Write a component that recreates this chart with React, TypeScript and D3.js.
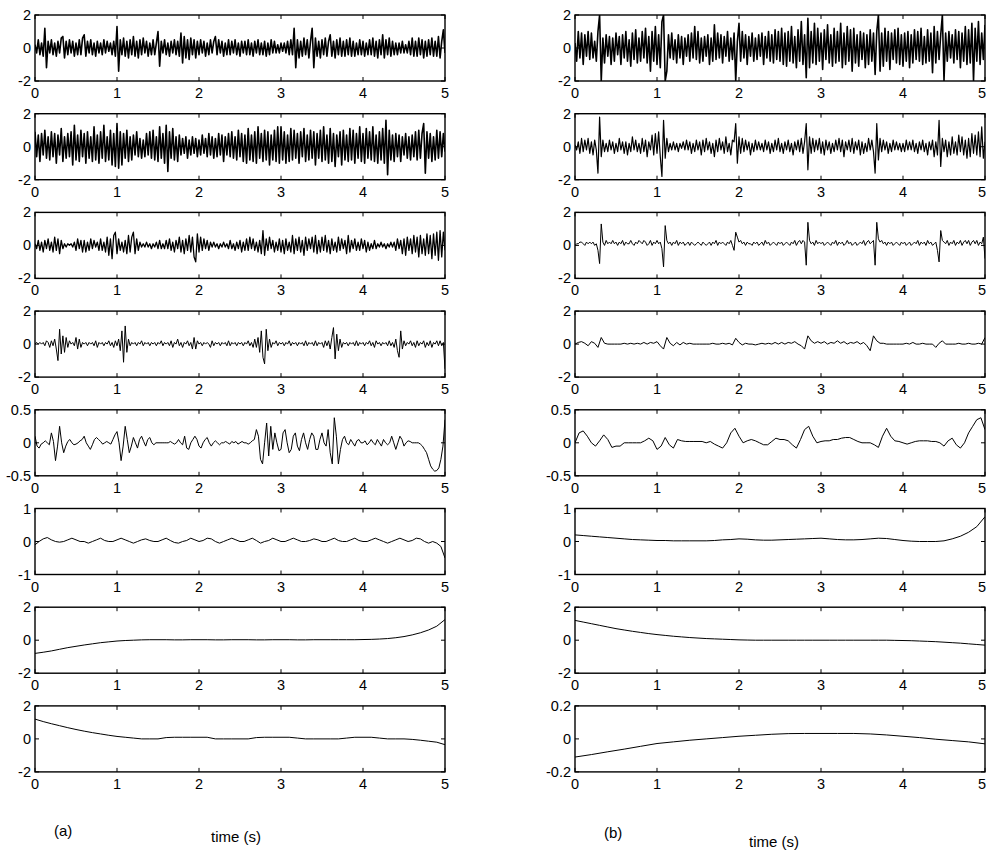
import React from 'react';
import * as d3 from 'd3';

// Time axis (seconds) shared by every subplot
const timeTicks = [0, 1, 2, 3, 4, 5];

// ---- Column (a): decomposition components, top to bottom ----
// values in tenths
const aC1 = [
  2,-3,5,-4,3,-5,12,-12,4,-3, 5,-4,3,-5,4,-3,6,7,-6,4, -4,5,-3,4,-5,3,-4,5,-4,6, 8,-5,4,-3,5,-4,3,-5,4,-3,
  3,-4,5,-3,4,-2,3,-4,4,-5, 13,-14,5,-4,6,-5,4,-6,5,-4, 7,-5,4,-6,5,-4,6,-3,4,-5, 3,-4,5,-4,3,10,-11,4,-3,5,
  -4,3,-5,4,-3,5,-4,4,-5,9, -9,7,-6,5,-7,6,-4,5,-6,4, -4,5,-3,4,-5,3,-4,5,-3,4, 7,-4,5,-3,4,-5,3,-4,5,-4,
  4,-3,5,-4,3,-5,4,-3,4,-4, 5,-4,3,-5,4,-3,5,-4,3,-4, 4,-5,3,-4,5,-3,4,-3,2,-3, 3,-2,3,-3,4,-4,5,-4,12,-12,
  5,-6,4,-5,6,-4,5,-6,4,12, -12,6,-5,4,-6,5,-4,6,-5,4, 8,-5,4,-6,5,-4,6,-5,4,-5, 5,-4,6,-5,4,-5,3,-4,5,-4,
  4,-5,3,-4,5,-4,6,-5,4,-6, 5,-4,8,-6,5,-4,6,-5,4,-4, 3,-4,3,-3,4,-3,2,-3,4,-4, 6,-5,4,-5,6,-4,5,-6,4,-5,
  5,-4,6,-5,4,-5,7,-6,4,11, -3,
];
const aC2 = [
  9,-6,7,-9,8,-5,10,-7,6,-8, 9,-6,8,-10,7,-5,11,-9,6,-7, 8,-6,9,-11,13,-8,7,-9,10,-6, 8,-10,9,-7,6,-9,12,-8,7,-10,
  9,-7,13,-9,6,-8,10,-11,8,-12, 14,-13,9,-11,8,-7,10,-9,6,-8, 7,-5,9,-6,5,-7,4,-6,8,-5, 9,-7,10,-8,6,-9,12,-7,8,-10,
  13,-15,9,-7,11,-8,6,-9,7,-5, 5,-4,6,-7,4,-5,6,-4,5,-6, 4,-5,7,-4,5,-6,8,-5,6,-7, 5,-6,8,-5,7,-9,6,-5,8,-6,
  9,-7,6,-8,10,-6,8,-9,7,-10, 11,-8,7,-9,9,-10,12,-7,8,-9, 10,-8,9,-11,7,-8,10,-9,12,-10, 12,-8,9,-10,7,-9,11,-8,10,-7,
  8,-10,9,-6,11,-9,7,-8,10,-7, 9,-11,8,-7,10,-9,12,-8,7,-10, 11,-9,8,-12,7,-6,9,-11,10,-8, 7,-9,11,-8,10,-10,8,-7,12,-9,
  8,-10,11,-7,9,-8,12,-9,7,-10, 9,-8,11,-10,16,-17,10,-8,7,-9, 8,-6,7,-9,6,-5,8,-7,6,-8, 7,-6,9,-8,10,-7,8,14,-16,9,
  -7,8,-9,6,-8,10,-7,9,-6,8, -3,
];
const aC3 = [
  1,-2,3,-3,2,-4,3,-2,4,-3, 2,-4,5,-3,4,-5,3,-2,1,-1, 1,0,1,-1,2,-3,4,-2,3,-4, 3,-4,2,-3,4,-2,3,-1,2,-3,
  4,-3,2,-4,5,-6,4,-8,6,8, -5,4,-3,2,-4,3,-5,6,-4,5, 8,-5,4,-3,2,-1,1,-1,2,-1, 1,-2,1,-1,2,-2,3,-2,1,-2,
  3,-2,4,-3,2,-4,3,-2,5,-4, 3,-5,4,-3,6,-4,5,-7,-10,7, -4,5,-3,4,-2,3,-3,2,-1,2, -1,1,-2,1,-1,2,-1,1,-2,3,
  -2,1,-3,2,-2,3,-4,2,-3,4, -3,5,-2,4,-3,2,-4,3,-5,9, -6,4,-3,5,-2,3,-4,2,-3,4, -4,3,-5,4,-3,2,-4,6,-5,4,
  -3,5,-4,3,-6,5,-3,4,-2,5, -4,6,-5,3,-4,5,-3,6,-4,3, -5,4,-3,2,-4,5,-3,4,-2,3, -5,6,-4,3,-2,4,-3,2,-3,4,
  -2,3,-4,2,-3,1,-2,3,-2,1, -1,2,-1,1,-2,1,-1,2,-1,2, -3,4,-2,3,-5,4,-6,5,-3,4, -5,6,-4,5,-7,6,-5,4,-6,7,
  -5,6,-8,7,-6,8,-9,9,-7,8, -3,
];
const aC4 = [
  0,1,0,1,0,1,-1,2,1,-2, 2,-1,3,-3,-10,9,-6,5,-5,4, -2,2,0,1,-1,4,-3,3,-2,1, 0,1,-1,1,0,1,-1,2,-2,1,
  0,1,-1,1,0,2,-1,1,-2,2, -1,3,-4,8,-11,11,-5,3,-1,1, 0,1,-1,1,0,2,-1,1,0,1, -1,1,0,1,-1,1,0,2,-1,1,
  0,1,-1,2,-2,1,0,3,-1,1, -2,1,0,2,-1,1,-3,4,-3,2, 0,1,-1,1,0,1,0,-2,2,-1, 1,0,1,-1,1,0,1,-1,2,-1,
  1,0,1,-1,1,0,1,-1,1,0, 2,-1,1,-2,3,-2,4,-5,8,-8, -12,9,-4,3,-2,1,0,2,-1,1, 0,1,-1,1,0,2,-1,1,0,1,
  -1,1,0,1,-1,2,-1,1,0,1, -1,2,-1,1,0,1,-2,2,-1,2, -3,4,10,-9,6,-4,3,-2,1,0, 1,-1,1,0,1,-1,2,-1,1,0,
  1,-1,1,0,2,-1,1,-2,2,0, 1,-1,1,0,1,-1,2,-1,1,-2, 3,-4,-8,8,-3,2,-1,1,0,2, -1,1,-2,2,-1,1,0,2,-2,1,
  -1,2,-2,1,0,2,-1,2,-1,1, -15,
];
// values in hundredths
const aC5 = [
  10,-5,-8,-2,0,3,0,-3, 15,2,-27,-5,25,0,-15,-5, 2,5,0,-3,-2,0,3,5, 10,0,-5,-10,-3,5,8,5,
  2,-2,0,2,0,-2,5,12, 17,0,-27,-5,25,5,-15,-5, 8,0,-8,5,10,2,-5,5, 8,0,-3,0,0,0,0,0,
  0,0,2,0,-2,0,5,0, -3,10,-8,-10,0,5,10,5, -5,-8,0,5,8,0,-5,0, 3,0,-3,0,0,2,0,-2,
  2,0,2,-2,0,2,0,0, -2,0,3,5,20,10,-25,-32, 0,30,-20,25,-10,15,0,-12, -10,15,20,0,-15,-10,10,15,
  -5,-12,5,15,0,-10,5,15, 10,-10,-10,5,15,0,-5,20, -15,-32,38,10,-32,-10,5,10, 0,-3,5,0,-5,3,5,0,
  0,3,-3,0,5,0,-3,5, 0,-5,5,0,-3,0,10,0, -10,0,10,5,-5,0,3,2, 0,0,0,0,-2,-5,-10,-15,
  -25,-35,-40,-43,-42,-38,-25,-5, 35,
];
const aC6 = [
  -10,0,8,12,5,0,-2,0,5,10, 5,0,0,-5,0,5,10,3,0,0, 5,10,5,0,-5,0,5,8,3,0, 0,5,10,3,-3,-5,0,3,10,5,
  0,3,10,8,0,-5,0,5,10,5, 0,0,5,10,3,-5,0,3,10,5, 0,0,5,10,5,0,0,3,8,5, 0,0,5,10,3,0,0,5,10,3,
  0,0,5,10,5,0,-5,0,5,10, 5,0,3,10,8,0,-5,0,-5,-15, -50,
];
const aC7 = [
  -80,-73,-65,-55,-45,-37,-29,-22,-15,-10, -5,-2,0,2,3,3,3,2,2,3, 3,3,2,2,3,3,3,2,2,3,
  3,3,2,2,3,3,3,3,3,3, 4,5,7,10,15,22,32,45,62,85, 125,
];
const aC8 = [
  120,105,92,80,68,57,47,38,30,22, 15,10,5,0,0,0,8,10,10,10, 10,10,0,0,0,0,0,8,10,10,
  10,10,5,0,0,0,0,0,5,10, 10,10,5,0,0,0,-3,-8,-14,-20, -35,
];

// ---- Column (b) ----
// values in tenths
const bC1 = [
  3,-8,10,-6,9,-10,8,-5,10,-7, 9,-6,4,-8,10,20,-20,6,-9,8, -5,7,-10,6,-8,9,-4,7,-10,8, -6,10,-8,5,-11,9,-7,11,-9,6,
  -8,10,-6,12,-9,7,-14,10,-8,13, -10,8,-12,16,20,-20,-14,8,-6,9, -7,5,-9,8,-6,7,-10,6,-5,8, -8,9,-6,13,-7,10,-9,6,-8,7,
  -5,8,-10,6,-8,14,-7,9,-6,8, -9,7,-5,10,-8,6,-7,9,-20,4, 15,-8,10,-6,8,-10,7,-5,9,-8, 6,-7,8,-5,9,-10,7,-6,10,-8,
  8,-9,11,-7,10,-8,12,-10,9,-11, 10,-8,13,-9,7,-12,11,-8,16,-10, 8,-18,18,-12,10,-9,15,-10,12,-8, 9,-13,11,-7,14,-9,8,-11,12,-9,
  10,-8,15,-12,9,-10,13,-8,11,-14, 12,-9,8,-11,10,-7,9,-12,8,-10, 11,-8,9,-16,10,20,-14,9,-11,12, -8,10,-13,9,-7,11,-9,12,-10,8,
  -11,9,-8,10,-12,8,-9,11,-7,10, -8,12,-10,7,-9,11,-8,9,-15,13, -9,10,-7,8,20,-20,9,-8,10,-6, 8,-9,11,-7,10,-12,9,-8,13,-10,
  11,-9,15,-20,12,-8,16,-10,9,-7, 14,
];
const bC2 = [
  1,-2,3,-4,5,-3,4,-2,5,-4, 3,-5,4,-2,-16,18,-6,4,-3,2, -3,4,-2,3,-4,2,-3,5,-2,3, -4,3,-5,2,-3,6,-2,4,-3,2,
  -4,5,-3,4,-6,3,-2,7,-5,8, -4,9,-6,-18,16,-7,5,-3,2,-2, 3,-2,2,-3,2,-1,3,-2,4,-2, 3,-4,2,-3,4,-2,3,-5,4,-3,
  5,-2,3,-4,2,-6,4,-3,5,-2, 3,-4,6,-3,2,-5,4,3,14,-10, 6,-4,5,-3,4,-2,3,-5,2,-3, 4,-2,3,-2,2,-3,4,-2,3,-4,
  2,-3,4,-2,5,-3,2,-4,3,-2, 4,-3,2,-5,3,-2,4,-3,5,-4, 3,14,-14,6,-4,5,-3,4,-2,5, -4,3,-5,4,-2,3,-4,2,-3,4,
  -2,5,-3,4,-6,3,-2,4,-3,5, -4,3,-2,4,-5,3,-4,2,-3,5, -2,4,-3,-16,14,-8,5,-3,4,-2, 3,-4,2,-3,4,-2,3,-2,2,-3,
  2,-3,4,-2,3,-2,4,-3,2,-4, 3,-2,4,-3,2,-5,3,-2,4,-6, 3,-5,16,-12,5,-3,4,-6,3,-5, 6,-4,3,-5,7,-3,6,-5,4,-7,
  5,-6,8,-4,7,-5,9,-6,12,-7, 3,
];
const bC3 = [
  0,1,1,2,2,1,0,2,1,2, 1,2,0,1,-3,-11,13,2,0,3, 1,2,1,3,1,2,0,2,1,3, 0,2,1,1,3,1,0,2,1,3,
  2,1,3,2,0,1,3,0,2,1, 3,1,2,-2,-13,12,3,1,2,0, 2,1,3,0,2,1,2,0,1,2, 0,2,1,0,1,2,1,0,2,1,
  0,1,2,0,2,1,3,0,2,1, 2,1,0,2,1,3,0,-3,8,5, 2,3,1,2,0,2,1,1,0,2, 1,2,0,1,2,0,3,1,2,0,
  1,2,1,0,2,1,2,0,1,2, 1,0,2,1,3,0,2,3,1,3, 2,-12,14,3,1,2,0,3,1,2, 1,2,0,1,2,1,0,2,1,3,
  0,2,1,2,0,1,3,1,2,0, 1,2,0,1,2,1,3,0,2,3, 1,2,3,-12,14,4,2,3,1,2, 0,2,1,2,0,1,2,1,0,2,
  1,2,0,1,2,0,1,2,1,3, 0,2,1,2,0,3,1,2,0,1, 2,-3,-10,9,3,2,1,3,0,2, 1,3,0,2,1,3,0,2,3,1,
  3,0,2,3,1,3,0,2,1,5, -8,
];
// values in hundredths
const bC4 = [
  0,10,15,5,-10,15,5,-20,40,5, 0,0,0,0,0,5,0,5,0,5, 0,10,0,10,5,15,-10,-30,40,5, -10,10,-5,10,0,5,0,0,0,0,
  0,0,5,0,0,5,0,5,-5,35, 10,-5,5,0,0,-5,0,5,0,5, 0,10,0,10,0,10,5,15,0,-10, -30,50,20,5,15,5,15,0,10,5,
  20,5,15,0,10,5,15,0,10,-10, -40,50,20,5,5,0,0,0,0,0, 0,5,0,10,0,0,5,0,0,0, -20,5,20,0,0,0,0,5,0,0,
  5,0,0,5,0,40,
];
const bC5 = [
  0,15,18,10,0,-5,3,12,5,-7, -5,-5,0,0,0,0,0,3,7,3, -10,-5,8,-3,-8,5,3,2,2,2, 2,2,0,2,-2,-5,-8,0,15,22,
  10,0,3,5,3,0,-3,-3,2,7, 5,5,3,-3,-8,5,20,25,10,0, 2,3,3,5,5,7,8,8,5,2, 0,0,0,-3,-7,10,22,10,3,2,
  0,-2,0,2,3,3,3,2,2,0, -5,3,7,-3,-8,0,15,25,35,38, 20,
];
const bC6 = [
  20,18,16,14,12,10,8,6,5,4, 3,3,2,2,2,2,2,3,5,6, 8,7,5,4,4,5,6,7,8,9,
  10,8,6,5,5,6,8,10,9,6, 3,1,0,0,0,2,8,16,28,45, 75,
];
const bC7 = [
  120,110,100,90,80,70,62,54,47,40, 34,29,24,20,16,13,10,8,6,4, 2,1,0,0,0,0,0,0,0,0,
  0,0,0,0,0,0,0,0,0,-1, -2,-3,-5,-7,-9,-12,-15,-18,-22,-26, -30,
];
// values in thousandths
const bC8 = [
  -110,-95,-78,-62,-45,-28,-18,-8,0,8,16,22,28,32,33,33,33,33,30,24,16,8,-2,-10,-18,-30,
];

const range2 = [-2, 2];
const ticks2 = [-2, 0, 2];
const rangeHalf = [-0.5, 0.5];
const ticksHalf = [-0.5, 0, 0.5];
const range1 = [-1, 1];
const ticks1 = [-1, 0, 1];
const rangeFifth = [-0.2, 0.2];
const ticksFifth = [-0.2, 0, 0.2];

const tenths = (a: number[]) => a.map((v) => v / 10);
const hundredths = (a: number[]) => a.map((v) => v / 100);
const thousandths = (a: number[]) => a.map((v) => v / 1000);

type PanelSpec = { values: number[]; domain: number[]; ticks: number[]; weight: number };

const columnA: PanelSpec[] = [
  { values: tenths(aC1), domain: range2, ticks: ticks2, weight: 1.6 },
  { values: tenths(aC2), domain: range2, ticks: ticks2, weight: 1.6 },
  { values: tenths(aC3), domain: range2, ticks: ticks2, weight: 1.3 },
  { values: tenths(aC4), domain: range2, ticks: ticks2, weight: 1 },
  { values: hundredths(aC5), domain: rangeHalf, ticks: ticksHalf, weight: 1 },
  { values: hundredths(aC6), domain: range1, ticks: ticks1, weight: 1 },
  { values: hundredths(aC7), domain: range2, ticks: ticks2, weight: 1 },
  { values: hundredths(aC8), domain: range2, ticks: ticks2, weight: 1 },
];
const columnB: PanelSpec[] = [
  { values: tenths(bC1), domain: range2, ticks: ticks2, weight: 1.6 },
  { values: tenths(bC2), domain: range2, ticks: ticks2, weight: 1.2 },
  { values: tenths(bC3), domain: range2, ticks: ticks2, weight: 1 },
  { values: hundredths(bC4), domain: range2, ticks: ticks2, weight: 1 },
  { values: hundredths(bC5), domain: rangeHalf, ticks: ticksHalf, weight: 1 },
  { values: hundredths(bC6), domain: range1, ticks: ticks1, weight: 1 },
  { values: hundredths(bC7), domain: range2, ticks: ticks2, weight: 1 },
  { values: thousandths(bC8), domain: rangeFifth, ticks: ticksFifth, weight: 1 },
];

const FONT = "'Liberation Sans', Arial, Helvetica, sans-serif";
const WIDTH = 987;
const HEIGHT = 851;
const PANEL_TOP = 15;
const PANEL_STEP = 98.7;
const PANEL_H = 66;
const PANEL_W = 410;
const TICK = 4;

function Panel({ spec, left, top, id }: { spec: PanelSpec; left: number; top: number; id: string }) {
  const x = d3.scaleLinear().domain([0, 5]).range([left, left + PANEL_W]);
  const y = d3.scaleLinear().domain(spec.domain).range([top + PANEL_H, top]);
  const n = spec.values.length;
  const line = d3
    .line<number>()
    .x((_, i) => x((i * 5) / (n - 1)))
    .y((v) => y(v));
  const bottom = top + PANEL_H;
  const right = left + PANEL_W;
  return (
    <g>
      <clipPath id={id}>
        <rect x={left} y={top} width={PANEL_W} height={PANEL_H} />
      </clipPath>
      <path
        d={line(spec.values) ?? ''}
        fill="none"
        stroke="#000"
        strokeWidth={spec.weight}
        strokeLinejoin="round"
        clipPath={`url(#${id})`}
      />
      <rect x={left} y={top} width={PANEL_W} height={PANEL_H} fill="none" stroke="#000" strokeWidth={1.4} />
      {timeTicks.map((t) => (
        <g key={'x' + t}>
          <line x1={x(t)} x2={x(t)} y1={bottom} y2={bottom - TICK} stroke="#000" strokeWidth={1} />
          <line x1={x(t)} x2={x(t)} y1={top} y2={top + TICK} stroke="#000" strokeWidth={1} />
          {/* keep the last label inside the page edge */}
          <text
            x={Math.min(x(t), WIDTH - 5)}
            y={bottom + 17}
            textAnchor="middle"
            fontSize={14.5}
            fontFamily={FONT}
          >
            {t}
          </text>
        </g>
      ))}
      {spec.ticks.map((v) => (
        <g key={'y' + v}>
          <line x1={left} x2={left + TICK} y1={y(v)} y2={y(v)} stroke="#000" strokeWidth={1} />
          <line x1={right} x2={right - TICK} y1={y(v)} y2={y(v)} stroke="#000" strokeWidth={1} />
          <text x={left - 4} y={y(v) + 5} textAnchor="end" fontSize={14.5} fontFamily={FONT}>
            {String(v)}
          </text>
        </g>
      ))}
    </g>
  );
}

export default function App() {
  return (
    <svg
      width={WIDTH}
      height={HEIGHT}
      style={{ position: 'absolute', left: 0, top: 0, background: '#fff' }}
    >
      <rect x={0} y={0} width={WIDTH} height={HEIGHT} fill="#fff" />
      {columnA.map((spec, i) => (
        <Panel key={'a' + i} id={'clipA' + i} spec={spec} left={35} top={PANEL_TOP + i * PANEL_STEP} />
      ))}
      {columnB.map((spec, i) => (
        <Panel key={'b' + i} id={'clipB' + i} spec={spec} left={575} top={PANEL_TOP + i * PANEL_STEP} />
      ))}
      <text x={54} y={836} fontSize={15} fontFamily={FONT}>(a)</text>
      <text x={236} y={842} fontSize={15} fontFamily={FONT} textAnchor="middle">time (s)</text>
      <text x={604} y={838} fontSize={15} fontFamily={FONT}>(b)</text>
      <text x={774} y={847} fontSize={15} fontFamily={FONT} textAnchor="middle">time (s)</text>
    </svg>
  );
}
